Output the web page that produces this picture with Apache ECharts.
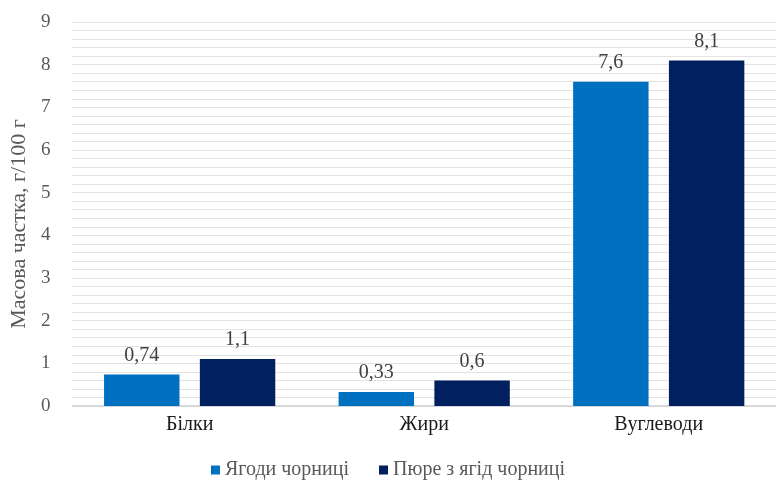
<!DOCTYPE html>
<html><head><meta charset="utf-8">
<script src="https://cdn.jsdelivr.net/npm/echarts@6/dist/echarts.min.js"></script>
<style>html,body{margin:0;padding:0;background:#fff}#c{width:776px;height:488px}</style>
</head><body><div id="c"></div>
<script>
const categories = ['Білки', 'Жири', 'Вуглеводи'];
const seriesNames = ['Ягоди чорниці', 'Пюре з ягід чорниці'];
const berries = [0.74, 0.33, 7.6];
const puree = [1.1, 0.6, 8.1];
const yTicks = [0, 1, 2, 3, 4, 5, 6, 7, 8, 9];

const FONT = '"Liberation Serif", "DejaVu Serif", serif';
const chart = echarts.init(document.getElementById('c'));
const lbl = {
  show: true, position: 'top', distance: 9,
  fontFamily: FONT, fontSize: 20, color: '#404040',
  formatter: p => String(p.value).replace('.', ',')
};
chart.setOption({
  animation: false,
  textStyle: { fontFamily: FONT },
  grid: { left: 69, right: 0, top: 22, bottom: 82, containLabel: false },
  legend: {
    bottom: 3, left: 'center', itemWidth: 9, itemHeight: 9, itemGap: 30,
    icon: 'rect',
    textStyle: { fontFamily: FONT, fontSize: 20, color: '#595959' },
    data: seriesNames
  },
  xAxis: {
    type: 'category', data: categories,
    axisLine: { lineStyle: { color: '#d0d0d0', width: 1.5 } },
    axisTick: { show: false },
    axisLabel: { fontFamily: FONT, fontSize: 20, color: '#1a1a1a', margin: 9 }
  },
  yAxis: {
    type: 'value', min: yTicks[0], max: yTicks[yTicks.length - 1], interval: 1,
    name: 'Масова частка, г/100 г', nameLocation: 'middle', nameGap: 38,
    nameTextStyle: { fontFamily: FONT, fontSize: 22, color: '#595959', padding: [0, 20, 0, 0] },
    axisLine: { show: false }, axisTick: { show: false },
    axisLabel: { fontFamily: FONT, fontSize: 19, color: '#595959', margin: 22 },
    splitLine: { lineStyle: { color: '#e3e3e3', width: 1 } },
    minorTick: { show: false, splitNumber: 5 },
    minorSplitLine: { show: true, lineStyle: { color: '#e3e3e3', width: 1 } }
  },
  series: [
    { name: seriesNames[0], type: 'bar', data: berries, barGap: '27%', barCategoryGap: '27%',
      itemStyle: { color: '#0070C0' }, label: lbl },
    { name: seriesNames[1], type: 'bar', data: puree, barGap: '27%', barCategoryGap: '27%',
      itemStyle: { color: '#002060' }, label: lbl }
  ]
});
</script></body></html>
